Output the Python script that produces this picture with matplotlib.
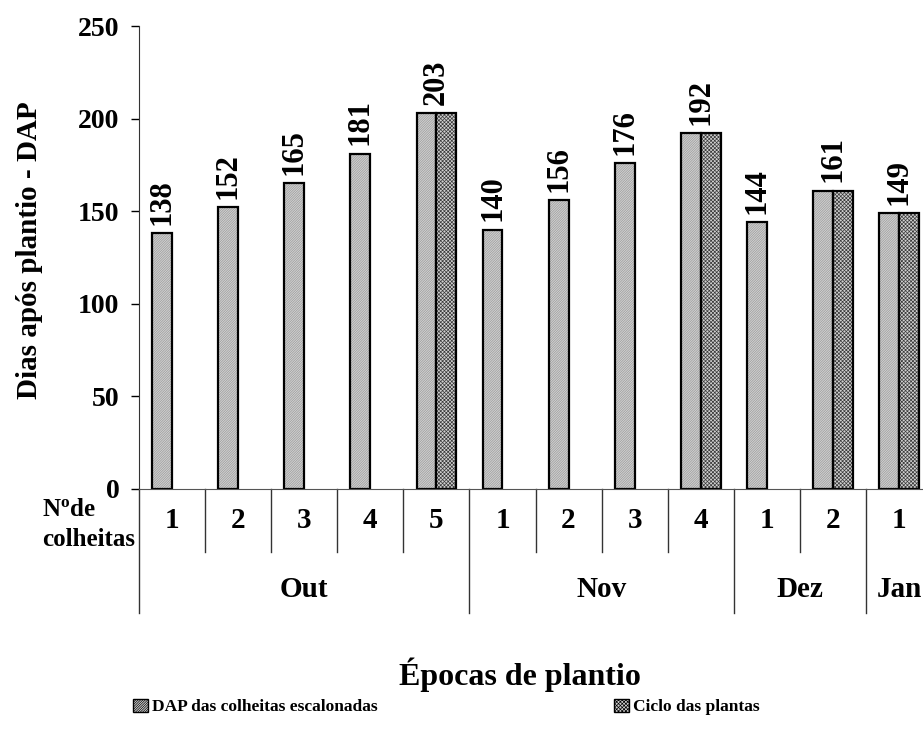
import numpy as np
import matplotlib.pyplot as plt
import matplotlib.transforms as mtransforms
from matplotlib.patches import Patch

plt.rcParams['font.family'] = 'Liberation Serif'
plt.rcParams['font.weight'] = 'bold'
plt.rcParams['mathtext.fontset'] = 'custom'
plt.rcParams['mathtext.rm'] = 'Liberation Serif:bold'
plt.rcParams['mathtext.it'] = 'Liberation Serif:bold'
plt.rcParams['hatch.linewidth'] = 0.5

# dados
meses = ['Out', 'Nov', 'Dez', 'Jan']
colheitas = [1, 2, 3, 4, 5, 1, 2, 3, 4, 1, 2, 1]
dap = [138, 152, 165, 181, 203, 140, 156, 176, 192, 144, 161, 149]
ciclo = [np.nan, np.nan, np.nan, np.nan, 203, np.nan, np.nan, np.nan, 192, np.nan, 161, 149]

n_mes = [5, 4, 2, 1]
x = np.arange(len(dap))
w = 0.3

# preenchimentos (fundo, cor da trama, trama)
est_dap = ('#d2d2d2', '#9a9a9a', '/' * 14)
est_ciclo = ('#d0d0d0', '#3a3a3a', 'x' * 9)

fig = plt.figure(figsize=(9.23, 7.30), dpi=100)
ax = fig.add_axes([139 / 923, 241 / 730, 793 / 923, 463 / 730])


def barras(xs, vals, est):
    ax.bar(xs, vals, w, facecolor=est[0], edgecolor=est[1], linewidth=0, hatch=est[2])
    ax.bar(xs, vals, w, facecolor='none', edgecolor='black', linewidth=1.6)


barras(x - w / 2, dap, est_dap)
barras(x + w / 2, ciclo, est_ciclo)

# rotulos de valor
for i, v in enumerate(dap):
    xl = x[i] if not np.isnan(ciclo[i]) else x[i] - w / 2
    ax.annotate(str(v), (xl, v), xytext=(0, 6), textcoords='offset points',
                rotation=90, ha='center', va='bottom', fontsize=22, fontweight='bold')

ax.set_xlim(-0.5, len(dap) - 0.5)
ax.set_ylim(0, 250)
ax.set_yticks(np.arange(0, 251, 50))
ax.tick_params(axis='y', direction='out', length=6, width=1, labelsize=20, pad=8)
ax.tick_params(axis='x', length=0, labelbottom=False)
for s in ['top', 'right']:
    ax.spines[s].set_visible(False)
ax.spines['left'].set_color('#333333')
ax.spines['bottom'].set_color('#555555')

# eixo categorico em dois niveis
trans = mtransforms.blended_transform_factory(ax.transData, ax.transAxes)
limites = np.cumsum(n_mes)[:-1] - 0.5
for b in np.arange(0.5, len(dap) - 0.5):
    y1 = -0.268 if b in limites else -0.136
    ax.plot([b, b], [0, y1], transform=trans, color='#333333', lw=1, clip_on=False)
ax.plot([-0.5, -0.5], [0, -0.268], transform=trans, color='#333333', lw=1, clip_on=False)

for i, c in enumerate(colheitas):
    ax.text(x[i], -0.069, str(c), transform=trans, ha='center', va='center', fontsize=21)

ini = 0
for m, n in zip(meses, n_mes):
    ax.text(ini + (n - 1) / 2, -0.218, m, transform=trans, ha='center', va='center', fontsize=21)
    ini += n

fig.text(42 / 923, 1 - 510 / 730, r'N$^{\rm o}$de', ha='left', va='center', fontsize=18)
fig.text(42 / 923, 1 - 540 / 730, 'colheitas', ha='left', va='center', fontsize=18)

fig.text(30 / 923, 1 - 250 / 730, 'Dias após plantio - DAP', rotation=90,
         ha='center', va='center', fontsize=21)
fig.text(520 / 923, 1 - 675 / 730, 'Épocas de plantio', ha='center', va='center', fontsize=23)


def alca(est):
    return Patch(facecolor=est[0], edgecolor='black', hatch=est[2], linewidth=1)


fig.legend(handles=[alca(est_dap), alca(est_ciclo)],
           labels=['DAP das colheitas escalonadas', 'Ciclo das plantas'],
           loc='center left', bbox_to_anchor=(133 / 923, 1 - 707 / 730), ncol=2,
           frameon=False, fontsize=12.5, handlelength=0.85, handleheight=0.85,
           handletextpad=0.25, columnspacing=13.6, borderpad=0, borderaxespad=0)

fig.savefig('out.png', dpi=100)
